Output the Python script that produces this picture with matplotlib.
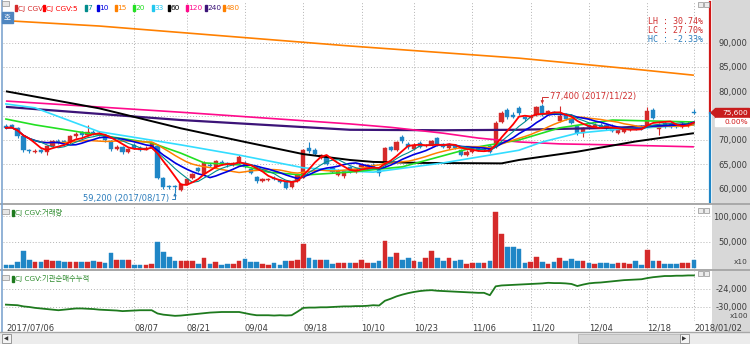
import numpy as np
import pandas as pd
import matplotlib
matplotlib.use("Agg")
import matplotlib.pyplot as plt
from matplotlib.patches import Rectangle, Polygon

plt.rcParams['font.family'] = ['DejaVu Sans', 'Noto Sans CJK KR']

# ---------------------------------------------------------------- data
opens = [72900, 73000, 72400, 70800, 67900, 67600, 67900, 67500, 68800, 69800,
         69700, 69300, 70800, 71600, 71000, 71600, 71100, 71000, 69800, 68200,
         68500, 67600, 68900, 68400, 68000, 68600, 68800, 62100, 60500, 60400,
         59700, 61000, 62200, 64200, 63000, 64900, 64500, 65500, 65200, 64800,
         65300, 65300, 64000, 62400, 61600, 61800, 62300, 61800, 61600, 60300,
         61600, 62300, 68400, 68000, 66400, 66500, 64200, 62900, 62600, 64400,
         63400, 64500, 64300, 64900, 63800, 64900, 68500, 68000, 70600, 69200,
         68100, 69400, 68800, 68900, 70400, 69200, 68300, 69000, 68000, 67000,
         67600, 68400, 67900, 68800, 68600, 73700, 76200, 75100, 76600, 74700,
         74500, 75100, 76900, 75400, 75800, 73900, 75200, 74500, 72900, 71500,
         73000, 72700, 73100, 73000, 72600, 71500, 71600, 72000, 72700, 72800,
         73000, 76200, 72300, 73500, 73200, 73200, 72700, 72900, 75800]
closes = [72500, 72600, 70800, 67900, 67700, 67800, 67600, 68700, 69800, 69400,
          69300, 70800, 71300, 71000, 71700, 71200, 71500, 69900, 68200, 68600,
          67600, 68100, 68400, 68000, 68400, 69300, 62200, 60300, 60400, 60300,
          61000, 61900, 63000, 63700, 65300, 64700, 65600, 65000, 64800, 65200,
          66500, 64400, 63300, 61500, 62000, 62000, 61900, 61400, 60200, 61400,
          62900, 67900, 67700, 67100, 66900, 65000, 63500, 63700, 63600, 63500,
          64000, 64900, 64800, 64400, 63300, 68300, 68000, 69500, 69700, 68500,
          69000, 68500, 68900, 69800, 69000, 68600, 69200, 68400, 67000, 67600,
          67900, 67900, 68100, 67600, 73500, 75500, 74700, 74800, 75500, 74400,
          74800, 76800, 75300, 75900, 75500, 74900, 74300, 73500, 71400, 72500,
          72600, 73100, 72700, 72400, 71900, 72000, 72000, 72400, 72300, 72300,
          75900, 74600, 73000, 72800, 72700, 72700, 73300, 73500, 75600]
highs = [73200, 73300, 72600, 71000, 68200, 68100, 68200, 69000, 70100, 70200,
         70000, 71100, 71600, 71900, 73000, 72000, 71900, 71200, 70000, 69000,
         68800, 68400, 69300, 68700, 68700, 69600, 69000, 62400, 60800, 60700,
         61200, 62200, 63300, 64500, 65600, 65200, 65900, 65800, 65500, 65500,
         67000, 65600, 64300, 62700, 62300, 62300, 62600, 62000, 61800, 61600,
         63100, 68200, 69500, 68400, 67200, 66800, 64400, 64000, 63900, 64700,
         64300, 65200, 65100, 65200, 64000, 68500, 68800, 69800, 71000, 69500,
         69300, 69700, 69200, 70100, 70700, 69400, 69400, 69200, 68200, 67900,
         68200, 68600, 68400, 69100, 73800, 75900, 76500, 75800, 76900, 75000,
         75100, 77000, 77400, 76200, 76000, 76900, 75500, 74700, 73100, 72700,
         73300, 73400, 73400, 73300, 73200, 72300, 72300, 72700, 73000, 73100,
         76700, 76600, 73500, 73800, 73500, 73500, 73600, 73800, 76400]
lows = [72300, 72400, 70500, 67600, 67300, 67300, 67300, 66900, 68600, 69100,
        69000, 69100, 70500, 70700, 70800, 71000, 70900, 69600, 67800, 67900,
        67200, 67400, 68200, 67800, 67900, 68400, 61900, 60000, 60000, 59200,
        59500, 60800, 62000, 63400, 62800, 64400, 64300, 64800, 64500, 64600,
        65100, 64200, 63000, 61200, 61400, 61600, 61700, 61200, 60000, 60100,
        61400, 62100, 67400, 66900, 66200, 64800, 63200, 62700, 62300, 63300,
        63200, 64300, 64100, 64200, 62700, 64700, 67700, 67800, 69400, 68200,
        67900, 68300, 68600, 68700, 68800, 68400, 68100, 68200, 66700, 66800,
        67400, 67700, 67700, 67300, 68400, 73500, 74400, 74500, 75200, 74000,
        74200, 74900, 75000, 75200, 75200, 73700, 74100, 73300, 71100, 70700,
        72300, 72400, 72500, 72100, 71600, 71200, 71400, 71800, 72000, 72100,
        72800, 74300, 71000, 72500, 72500, 72400, 72500, 72700, 75300]
# trading volume (axis unit: x10 shares)
volumes = [5100, 5100, 10800, 33100, 15900, 10200, 10200, 15900, 13400, 12100,
           10200, 10200, 10200, 10800, 10200, 12100, 10800, 8300, 28700, 15900,
           15900, 14600, 5700, 5700, 5700, 7600, 49700, 29900, 21000, 12100,
           12100, 12100, 12100, 7000, 19100, 7600, 10800, 4500, 7000, 7000,
           12700, 17800, 10200, 10200, 7000, 5700, 8300, 4500, 12100, 12100,
           14600, 45900, 19100, 15900, 15900, 14600, 7000, 8300, 9600, 8300,
           9600, 14600, 9600, 8300, 14000, 51000, 21000, 28700, 15900, 19100,
           14000, 10800, 19100, 33100, 19100, 14000, 19700, 14000, 15900, 7000,
           8300, 9600, 9600, 14000, 108300, 65000, 40800, 40800, 36300, 9600,
           10800, 21000, 10800, 7000, 10800, 19700, 14000, 17800, 12100, 12100,
           8300, 7000, 8300, 8300, 7000, 9600, 8300, 7000, 14000, 5700,
           34400, 14000, 14000, 7000, 7000, 7000, 8300, 9600, 14600]
# cumulative institutional net buying (axis unit: x100 shares)
inst_cum = [-29300, -29400, -29500, -29900, -30100, -30400, -30600, -30800, -31000, -31200,
            -31000, -30800, -30600, -30600, -30700, -30800, -31000, -31100, -31200, -31300,
            -31500, -31400, -31300, -31200, -31200, -31200, -32300, -32700, -32900, -33100,
            -33000, -32800, -32600, -32400, -32200, -32000, -31900, -31800, -31800, -31800,
            -31800, -32200, -32600, -32900, -32900, -32900, -33000, -32900, -33000, -32900,
            -31700, -30400, -30300, -30300, -30200, -30200, -30100, -30000, -29900, -29900,
            -29800, -29800, -29700, -29500, -29600, -28000, -27300, -26500, -25900, -25400,
            -25000, -24700, -24500, -24400, -24600, -24700, -24800, -24900, -25000, -25100,
            -25200, -25300, -25300, -26100, -23100, -22800, -22700, -22600, -22500, -22400,
            -22300, -22200, -22100, -21900, -22000, -22000, -22100, -22300, -23000, -22500,
            -22100, -21900, -21800, -21600, -21400, -21200, -21000, -20900, -20800, -20700,
            -20300, -20000, -19800, -19600, -19600, -19500, -19500, -19400, -19400]

# long moving averages (bar index, price) - they need history before the window
ma20_idx = [0, 5, 16, 25, 30, 34, 40, 45, 51, 59, 68, 80, 88, 95, 104, 118]
ma20_val = [74300, 73100, 71000, 69400, 67300, 65300, 64900, 63400, 62800, 63400,
            64500, 68400, 70000, 72500, 74100, 73700]
ma33_idx = [0, 5, 16, 30, 40, 51, 59, 63, 75, 88, 92, 98, 104, 118]
ma33_val = [77400, 76600, 71700, 69000, 66900, 64300, 63600, 63400, 65300, 67900,
            69600, 71400, 72100, 73100]
ma60_idx = [0, 16, 30, 41, 51, 59, 63, 71, 85, 88, 98, 108, 118]
ma60_val = [80000, 76500, 72400, 69600, 67100, 65900, 65500, 65300, 65200, 65900,
            67600, 69700, 71400]
ma120_idx = [0, 30, 59, 66, 75, 81, 88, 95, 104, 118]
ma120_val = [78000, 75700, 73300, 72600, 71400, 70400, 69600, 69200, 69000, 68600]
ma240_idx = [0, 30, 59, 75, 88, 104, 118]
ma240_val = [76800, 74100, 72100, 72000, 72100, 72500, 73200]
ma480_idx = [0, 16, 59, 88, 109, 118]
ma480_val = [94500, 93400, 89300, 86800, 84400, 83300]

tick_idx = [0, 22, 31, 41, 51, 61, 70, 80, 90, 100, 110, 118]
tick_lbl = ['2017/07/06', '08/07', '08/21', '09/04', '09/18', '10/10', '10/23',
            '11/06', '11/20', '12/04', '12/18', '2018/01/02']
hi_date = '2017/11/22'
lo_date = '2017/08/17'
day_change = 0.00

# ---------------------------------------------------------------- styling
RED = '#d52a2a'
BLUE = '#1f86c6'
C_MA = {5: '#ff0000', 7: '#008c8c', 10: '#0000e0', 15: '#ff8000', 20: '#22e022',
        33: '#33ddff', 60: '#000000', 120: '#ff0a8c', 240: '#3c1478', 480: '#ff8000'}
TXT = '#3c3c3c'
GRID = '#b4b4b4'
GRAYCOL = '#d8d8d8'
FS = 6
FS_S = 5.3

W, H = 750, 344
fig = plt.figure(figsize=(W / 100, H / 100), dpi=100)
fig.patch.set_facecolor('white')


def axes_px(x0, y0, x1, y1):
    return fig.add_axes([x0 / W, 1 - y1 / H, (x1 - x0) / W, (y1 - y0) / H])


def fig_rect(x0, y0, x1, y1, **kw):
    fig.add_artist(Rectangle((x0 / W, 1 - y1 / H), (x1 - x0) / W, (y1 - y0) / H,
                             transform=fig.transFigure, **kw))


def fig_line(x0, y0, x1, y1, **kw):
    fig.add_artist(plt.Line2D([x0 / W, x1 / W], [1 - y0 / H, 1 - y1 / H],
                              transform=fig.transFigure, **kw))


# right-hand scale column
fig_rect(712, 0, 750, 332, color=GRAYCOL, zorder=0)

opens_a = np.array(opens, float)
closes_a = np.array(closes, float)
highs_a = np.array(highs, float)
lows_a = np.array(lows, float)
n = len(closes_a)
idx = np.arange(n)
up = closes_a >= opens_a
cols = np.where(up, RED, BLUE)

XL = (-0.5, 121.1)
P_LIM = (57271, 98331)
ax_p = axes_px(3, 2, 712, 202)
ax_v = axes_px(3, 205, 712, 269)
ax_i = axes_px(3, 271, 712, 321)

for a in (ax_p, ax_v, ax_i):
    a.set_xlim(*XL)
    for s in a.spines.values():
        s.set_visible(False)
    a.yaxis.tick_right()
    a.tick_params(axis='y', length=0, pad=25.5, labelsize=FS, labelcolor=TXT)
    a.tick_params(axis='x', length=0)
    a.set_xticks(tick_idx[1:])
    a.grid(True, ls=(0, (1, 2)), color=GRID, lw=0.7)
    a.set_axisbelow(True)

# ---------------------------------------------------------------- price panel
i_hi = int(np.argmax(highs_a))
i_lo = int(np.argmin(lows_a))
hi, lo, last = highs_a[i_hi], lows_a[i_lo], closes_a[-1]

ax_p.set_ylim(*P_LIM)
pticks = [60000, 65000, 70000, 75000, 80000, 85000, 90000]
ax_p.set_yticks(pticks)
# the current-price tag covers the nearest scale label
ax_p.set_yticklabels(['' if abs(v - last) < 2000 else f'{v:,}' for v in pticks])
for t in ax_p.get_yticklabels():
    t.set_ha('right')
ax_p.set_xticklabels([])

ax_p.vlines(idx, lows_a, highs_a, colors=cols, lw=0.8, zorder=2)
body = np.maximum(np.abs(closes_a - opens_a), 160)
ax_p.bar(idx, body, bottom=np.minimum(opens_a, closes_a), width=0.72,
         color=cols, edgecolor=cols, lw=0.3, zorder=2)

cs = pd.Series(closes_a)
for k, lw in ((480, 1.2), (240, 1.6), (120, 1.2), (60, 1.4)):
    ii = globals()[f'ma{k}_idx']
    vv = globals()[f'ma{k}_val']
    ax_p.plot(ii, vv, color=C_MA[k], lw=lw, zorder=3, solid_capstyle='butt')
for k in (33, 20):
    ax_p.plot(globals()[f'ma{k}_idx'], globals()[f'ma{k}_val'], color=C_MA[k],
              lw=1.2, zorder=3)
for k, lw in ((15, 1.1), (10, 1.2), (7, 0.8), (5, 1.3)):
    ax_p.plot(idx, cs.rolling(k, min_periods=1).mean(), color=C_MA[k], lw=lw, zorder=4)

# highest / lowest markers
ax_p.annotate(f'{int(hi):,} ({hi_date})', xy=(i_hi, hi), xytext=(8, 7),
              textcoords='offset pixels', ha='left', va='center', fontsize=FS,
              color='#d03030',
              arrowprops=dict(arrowstyle='-|>', color='#d03030', lw=0.7,
                              mutation_scale=4, shrinkA=0, shrinkB=0,
                              relpos=(0, 0.5),
                              connectionstyle='angle,angleA=0,angleB=90,rad=0'))
ax_p.annotate(f'{int(lo):,} ({lo_date})', xy=(i_lo, lo), xytext=(-6, -6),
              textcoords='offset pixels', ha='right', va='center', fontsize=FS,
              color='#2a7cbc',
              arrowprops=dict(arrowstyle='-|>', color='#2a7cbc', lw=0.7,
                              mutation_scale=4, shrinkA=0, shrinkB=0,
                              relpos=(1, 0.5),
                              connectionstyle='angle,angleA=0,angleB=90,rad=0'))

# range statistics
lh = (hi - lo) / lo * 100
lc = (last - lo) / lo * 100
hc = (last - hi) / hi * 100
for k, (lab, val, c) in enumerate((('LH', lh, '#d03030'), ('LC', lc, '#d03030'),
                                   ('HC', hc, '#2a7cbc'))):
    fig.text(703 / W, 1 - (22 + 8.5 * k) / H, f'{lab} : {val:.2f}%', ha='right',
             va='center', fontsize=FS, color=c, family='DejaVu Sans Mono')

# current price bar at the right edge of the chart
ax_p.plot([120.8, 120.8], [last, P_LIM[1]], color='#d01818', lw=1.6, zorder=5,
          clip_on=False)
ax_p.plot([120.8, 120.8], [P_LIM[0], last], color='#1f86c6', lw=1.6, zorder=5,
          clip_on=False)
ypix = 2 + (P_LIM[1] - last) / (P_LIM[1] - P_LIM[0]) * 200
fig_rect(715, ypix - 5, 749, ypix + 5, color='#c81c1c', zorder=6)
fig.add_artist(Polygon([[711 / W, 1 - ypix / H], [715.5 / W, 1 - (ypix - 4) / H],
                        [715.5 / W, 1 - (ypix + 4) / H]], closed=True,
                       transform=fig.transFigure, color='#c81c1c', zorder=6))
fig.text(748 / W, 1 - ypix / H, f'{int(last):,}', ha='right', va='center',
         fontsize=FS_S, color='white', zorder=7)
fig_rect(715, ypix + 5, 749, ypix + 13.5, color='white', zorder=6)
fig.text(748 / W, 1 - (ypix + 9.5) / H, f'{day_change:.2f}%', ha='right',
         va='center', fontsize=FS_S, color='#d01818', zorder=7)

# ---------------------------------------------------------------- volume panel
vol = np.array(volumes, float)
ax_v.set_ylim(-2530, 121980)
vticks = [50000, 100000]
ax_v.set_yticks(vticks)
ax_v.set_yticklabels([f'{v:,}' for v in vticks])
for t in ax_v.get_yticklabels():
    t.set_ha('right')
ax_v.set_xticklabels([])
ax_v.bar(idx, vol, width=0.8, color=cols, edgecolor=cols, lw=0.3, zorder=2)
fig.text(748 / W, 1 - 262 / H, 'x10', ha='right', va='center', fontsize=FS_S,
         color=TXT)

# ---------------------------------------------------------------- institutional panel
ax_i.set_ylim(-34850, -17900)
iticks = [-30000, -24000]
ax_i.set_yticks(iticks)
ax_i.set_yticklabels([f'{v:,}' for v in iticks])
for t in ax_i.get_yticklabels():
    t.set_ha('right')
ax_i.plot(idx, inst_cum, color='#1e7a1e', lw=1.3, zorder=3)
ax_i.set_xticks(tick_idx)
ax_i.set_xticklabels(tick_lbl, fontsize=FS, color=TXT)
for t in ax_i.get_xticklabels():
    t.set_ha('left')
ax_i.tick_params(axis='x', pad=1.5)
ax_i.xaxis.grid(False)
for t in tick_idx[1:]:
    ax_i.axvline(t, ls=(0, (1, 2)), color=GRID, lw=0.7, zorder=0)
fig.text(748 / W, 1 - 316.5 / H, 'x100', ha='right', va='center', fontsize=FS_S,
         color=TXT)

# ---------------------------------------------------------------- frames, legend, captions
fig_line(0, 203.5, 750, 203.5, color='#a8a8a8', lw=1.4)
fig_line(0, 270, 750, 270, color='#a8a8a8', lw=1.4)
fig_line(1.5, 0, 1.5, 332, color='#7fa6d0', lw=1.2)
fig_line(0, 332, 750, 332, color='#a8a8a8', lw=1.0)

# scroll bar
fig_rect(0, 333, 750, 344, color='#ececec', zorder=1)
fig_rect(2, 334, 11, 343, facecolor='#f4f4f4', edgecolor='#8a8a8a', lw=0.6, zorder=2)
fig.text(6.5 / W, 1 - 338.5 / H, '◀', ha='center', va='center', fontsize=4,
         color='#333333')
fig_rect(578, 334, 680, 343, facecolor='#d6d6d6', edgecolor='#b0b0b0', lw=0.5, zorder=2)
fig_rect(680, 334, 689, 343, facecolor='#f4f4f4', edgecolor='#8a8a8a', lw=0.6, zorder=2)
fig.text(684.5 / W, 1 - 338.5 / H, '▶', ha='center', va='center', fontsize=4,
         color='#333333')

# legend row
legend = [('CJ CGV', RED, 15), ('CJ CGV:5', C_MA[5], 43), ('7', C_MA[7], 85),
          ('10', C_MA[10], 97), ('15', C_MA[15], 115), ('20', C_MA[20], 133),
          ('33', '#22c8f0', 152), ('60', C_MA[60], 168), ('120', C_MA[120], 186),
          ('240', C_MA[240], 205), ('480', C_MA[480], 223)]
fig_rect(2, 1, 9, 6, facecolor='#e6e6e6', edgecolor='#909090', lw=0.5, zorder=3)
for lab, c, x in legend:
    fig_rect(x, 5.5, x + 1.6, 11, color=c, zorder=3)
    fig.text((x + 2.6) / W, 1 - 8.5 / H, lab, ha='left', va='center', fontsize=FS_S,
             color=c, zorder=3)

fig_rect(2, 12, 13, 22.5, color='#4f86c0', zorder=6)
fig.text(7.5 / W, 1 - 17.3 / H, '호', ha='center', va='center', fontsize=5.5,
         color='white', family='Noto Sans CJK KR', zorder=7)

for y0, lab in ((213, 'CJ CGV:거래량'), (279, 'CJ CGV:기관순매수누적')):
    fig_rect(2, y0 - 4, 9, y0 + 1, facecolor='#e6e6e6', edgecolor='#909090', lw=0.5,
             zorder=3)
    fig_rect(12, y0 - 3, 13.5, y0 + 3, color='#1e7a1e', zorder=3)
    fig.text(15 / W, 1 - y0 / H, lab, ha='left', va='center', fontsize=FS_S,
             color='#2e8b2e', family=['DejaVu Sans', 'Noto Sans CJK KR'], zorder=3)

for y0 in (5, 211, 274):
    fig_rect(698, y0 - 3, 703, y0 + 2, facecolor='#ececec', edgecolor='#909090',
             lw=0.5, zorder=3)
    fig_rect(704, y0 - 3, 709, y0 + 2, facecolor='#ececec', edgecolor='#909090',
             lw=0.5, zorder=3)

fig.savefig('out.png', dpi=100)
